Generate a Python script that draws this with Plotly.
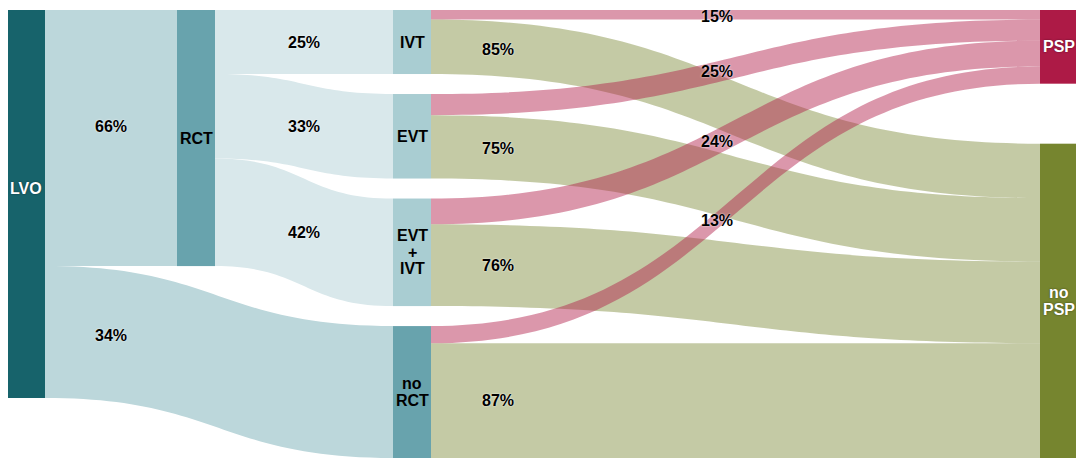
import plotly.graph_objects as go

# --- data (percent of the parent group) ---
node_names = ["LVO", "RCT", "IVT", "EVT", "EVT + IVT", "no RCT", "PSP", "no PSP"]
rct_pct = [66, 34]                 # RCT, no RCT (of LVO)
treatments = ["IVT", "EVT", "EVT + IVT"]
treatment_pct = [25, 33, 42]       # of RCT
outcome_groups = ["IVT", "EVT", "EVT + IVT", "no RCT"]
psp_pct = [15, 25, 24, 13]         # PSP share per group, rest is no PSP

# --- style ---
node_colors = {
    "LVO": "#17636b", "RCT": "#68a3ad", "IVT": "#a9cdd2", "EVT": "#a9cdd2",
    "EVT + IVT": "#a9cdd2", "no RCT": "#68a3ad", "PSP": "#ad1a46", "no PSP": "#76852f",
}
text_colors = {"LVO": "white", "PSP": "white", "no PSP": "white"}
LVO_LINK = "#bcd7db"
RCT_LINK = "#d9e8eb"
PSP_LINK = "rgba(176,28,72,0.46)"
NOPSP_LINK = "rgba(118,133,47,0.43)"
FONT = "Liberation Sans, Arial, sans-serif"

FIG_W, FIG_H = 1084, 465
BODY = 8  # page body margin the figure sits in
M = dict(l=0, r=0, t=10 - BODY, b=FIG_H - 458 + BODY)
W = FIG_W - M["l"] - M["r"]
H = FIG_H - M["t"] - M["b"]
PAD = 60
THICK = 38
# node column centres on the page, moved into plot coordinates
col_x = {n: x - BODY - M["l"] for n, x in {
    "LVO": 26, "RCT": 196, "IVT": 412, "EVT": 412, "EVT + IVT": 412,
    "no RCT": 412, "PSP": 1059, "no PSP": 1059}.items()}

# --- links built from the percentages ---
links = []  # (source, target, value, label)
for name, p in zip(["RCT", "no RCT"], rct_pct):
    links.append(("LVO", name, p / 100, f"{p}%"))
for name, p in zip(treatments, treatment_pct):
    links.append(("RCT", name, rct_pct[0] / 100 * p / 100, f"{p}%"))
group_size = {t: rct_pct[0] / 100 * p / 100 for t, p in zip(treatments, treatment_pct)}
group_size["no RCT"] = rct_pct[1] / 100
for name, p in zip(outcome_groups, psp_pct):
    links.append((name, "PSP", group_size[name] * p / 100, f"{p}%"))
    links.append((name, "no PSP", group_size[name] * (100 - p) / 100, f"{100 - p}%"))

# --- node geometry (same scale plotly uses: tallest column fills H - PAD) ---
ky = H - PAD
value = {}
for n in node_names:
    vin = sum(l[2] for l in links if l[1] == n)
    vout = sum(l[2] for l in links if l[0] == n)
    value[n] = max(vin, vout)
height = {n: value[n] * ky for n in node_names}
top = {"LVO": 0, "RCT": 0, "PSP": 0, "no PSP": H - height["no PSP"]}
stack = ["IVT", "EVT", "EVT + IVT", "no RCT"]
gap = (H - sum(height[n] for n in stack)) / (len(stack) - 1)
y = 0
for n in stack:
    top[n] = y
    y += height[n] + gap
centre = {n: top[n] + height[n] / 2 for n in node_names}

# link band centres at both ends
band = {}
for n in node_names:
    outs = sorted([l for l in links if l[0] == n], key=lambda l: centre[l[1]])
    y = top[n]
    for l in outs:
        band[(l[0], l[1], "s")] = y + l[2] * ky / 2
        y += l[2] * ky
    ins = sorted([l for l in links if l[1] == n], key=lambda l: centre[l[0]])
    y = top[n]
    for l in ins:
        band[(l[0], l[1], "t")] = y + l[2] * ky / 2
        y += l[2] * ky


def curve_y(frac, ya, yb):
    # plotly link curve: both x control points at the middle
    lo, hi = 0.0, 1.0
    for _ in range(60):
        t = (lo + hi) / 2
        if 1.5 * t * (1 - t) + t ** 3 < frac:
            lo = t
        else:
            hi = t
    t = (lo + hi) / 2
    return ya + (yb - ya) * (3 * t * t - 2 * t ** 3)


label_frac = {"PSP": 0.47, "no PSP": 0.11}
label_nudge = {("LVO", "RCT"): -12, ("IVT", "PSP"): 2}
node_nudge = {"LVO": -16}

annotations = []
for s, t, v, lab in links:
    x0 = col_x[s] + THICK / 2
    x1 = col_x[t] - THICK / 2
    if s == "LVO":
        # both LVO labels sit half way to the RCT column
        lx = (x0 + col_x["RCT"] - THICK / 2) / 2
        f = (lx - x0) / (x1 - x0)
    else:
        f = label_frac.get(t, 0.5)
        lx = x0 + (x1 - x0) * f
    ly = curve_y(f, band[(s, t, "s")], band[(s, t, "t")]) + label_nudge.get((s, t), 0)
    annotations.append(dict(
        x=lx / W, y=1 - ly / H, xref="paper", yref="paper", text=lab,
        showarrow=False, xanchor="center", yanchor="middle",
        font=dict(family=FONT, size=16, color="black", weight="bold",
                  shadow="0px 0px 2px white"),
    ))

LINE_H = 16.5
for n in node_names:
    parts = n.split(" ")
    for i, part in enumerate(parts):
        ly = centre[n] + node_nudge.get(n, 0) + (i - (len(parts) - 1) / 2) * LINE_H
        col = text_colors.get(n, "black")
        annotations.append(dict(
            x=col_x[n] / W, y=1 - ly / H, xref="paper", yref="paper", text=part,
            showarrow=False, xanchor="center", yanchor="middle",
            font=dict(family=FONT, size=16, color=col, weight="bold",
                      shadow="0px 0px 2px rgba(0,0,0,0.5)" if col == "white" else "none"),
        ))


def link_colour(s, t):
    if s == "LVO":
        return LVO_LINK
    if s == "RCT":
        return RCT_LINK
    return PSP_LINK if t == "PSP" else NOPSP_LINK


idx = {n: i for i, n in enumerate(node_names)}
fig = go.Figure(go.Sankey(
    arrangement="fixed",
    node=dict(
        label=[""] * len(node_names),
        customdata=node_names,
        hovertemplate="%{customdata}<extra></extra>",
        color=[node_colors[n] for n in node_names],
        x=[col_x[n] / W for n in node_names],
        y=[centre[n] / H for n in node_names],
        pad=PAD,
        thickness=THICK,
        line=dict(width=0),
    ),
    link=dict(
        source=[idx[l[0]] for l in links],
        target=[idx[l[1]] for l in links],
        value=[l[2] for l in links],
        customdata=[l[3] for l in links],
        hovertemplate="%{customdata}<extra></extra>",
        color=[link_colour(l[0], l[1]) for l in links],
    ),
))

fig.update_layout(
    width=FIG_W, height=FIG_H,
    margin=M,
    paper_bgcolor="white",
    font=dict(family=FONT),
    annotations=annotations,
)

fig.write_html("out.html")
